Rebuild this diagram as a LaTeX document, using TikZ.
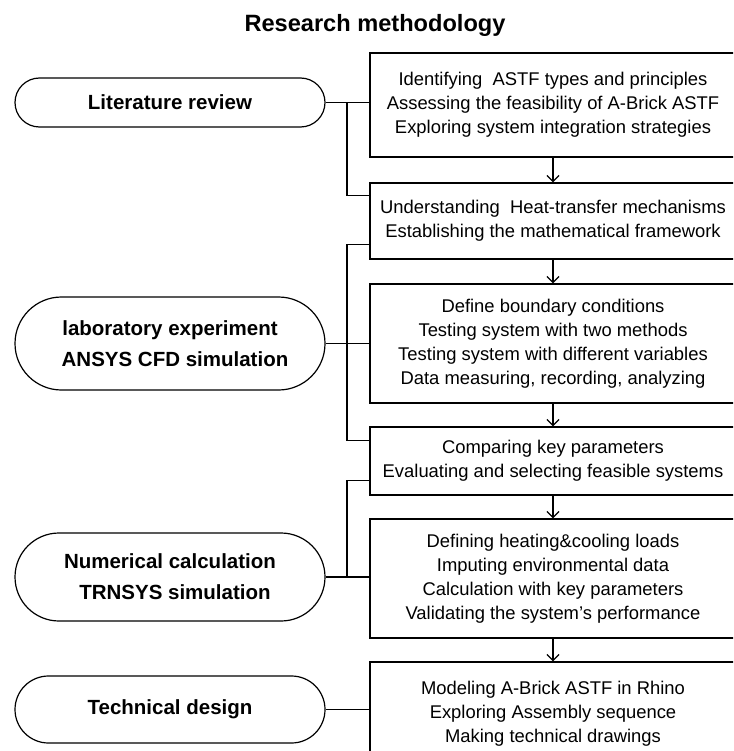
\documentclass[tikz,border=0pt]{standalone}
\usepackage{fontspec}
\setmainfont{Liberation Sans}
\usetikzlibrary{shapes.misc, arrows.meta, positioning}

\begin{document}
\begin{tikzpicture}[
    x=1pt, y=-1pt,
    stage/.style={
        rounded rectangle,
        draw=black,
        line width=1.2pt,
        minimum width=310pt,
        minimum height=#1,
        inner sep=0pt,
        align=center,
        font=\bfseries\fontsize{20.5}{31}\selectfont
    },
    task/.style={
        rectangle,
        draw=black,
        line width=1.3pt,
        minimum width=366pt,
        minimum height=#1,
        inner xsep=0pt,
        align=center,
        font=\fontsize{18.4}{24}\selectfont
    },
    link/.style={
        line width=1.3pt
    },
    arrow/.style={
        -{Straight Barb[length=6pt, width=12pt]},
        line width=1.3pt
    }
]

% Define column positions
\def\colL{170}   % stage column
\def\colT{347}   % trunk of the links
\def\colR{553}   % task column

\clip (0,0) rectangle (733,751);

% Title
\node[font=\bfseries\fontsize{23.6}{28}\selectfont] (title) at (375,25) {Research methodology};

% Stages on the left
\node[stage=49pt] (lit) at (\colL,102.5) {Literature review};
\node[stage=93pt] (lab) at (\colL,343.5) {laboratory experiment\\\hspace*{10pt}ANSYS CFD simulation};
\node[stage=88pt] (num) at (\colL,577) {Numerical calculation\\\hspace*{10pt}TRNSYS simulation};
\node[stage=67pt] (tech) at (\colL,709.5) {Technical design};

% Tasks on the right
\node[task=104pt] (box1) at (\colR,105) {Identifying\ \ ASTF types and principles\\Assessing the feasibility of A-Brick ASTF\\Exploring system integration strategies};
\node[task=76pt] (box2) at (\colR,221) {Understanding\ \ Heat-transfer mechanisms\\Establishing the mathematical framework};
\node[task=119pt] (box3) at (\colR,343.5) {Define boundary conditions\\Testing system with two methods\\Testing system with different variables\\Data measuring, recording, analyzing};
\node[task=68pt] (box4) at (\colR,461) {Comparing key parameters\\Evaluating and selecting feasible systems};
\node[task=119pt] (box5) at (\colR,578.5) {Defining heating\&cooling loads\\Imputing environmental data\\Calculation with key parameters\\Validating the system’s performance};
\node[task=104pt] (box6) at (\colR,714) {Modeling A-Brick ASTF in Rhino\\Exploring Assembly sequence\\Making technical drawings};

% Junctions on the trunk
\coordinate (j1) at (\colT,102.5);
\coordinate (j2) at (\colT,343.5);
\coordinate (j3) at (\colT,577);

% Links from the stages to the tasks
\draw[link] (lit.east) -- (lit.east -| box1.west);
\draw[link] (j1) |- ([yshift=-13pt]box2.north west);
\draw[link] (lab.east) -- (lab.east -| box3.west);
\draw[link] ([yshift=15pt]box2.south west) -| (j2) |- ([yshift=-14pt]box4.north west);
\draw[link] (num.east) -- (num.east -| box5.west);
\draw[link] ([yshift=15pt]box4.south west) -| (j3);
\draw[link] (tech.east) -- (tech.east -| box6.west);

% Arrows between the tasks
\foreach \a/\b in {box1/box2, box2/box3, box3/box4, box4/box5, box5/box6} {
    \draw[arrow] (\a.south) -- (\b.north);
}

\end{tikzpicture}
\end{document}
